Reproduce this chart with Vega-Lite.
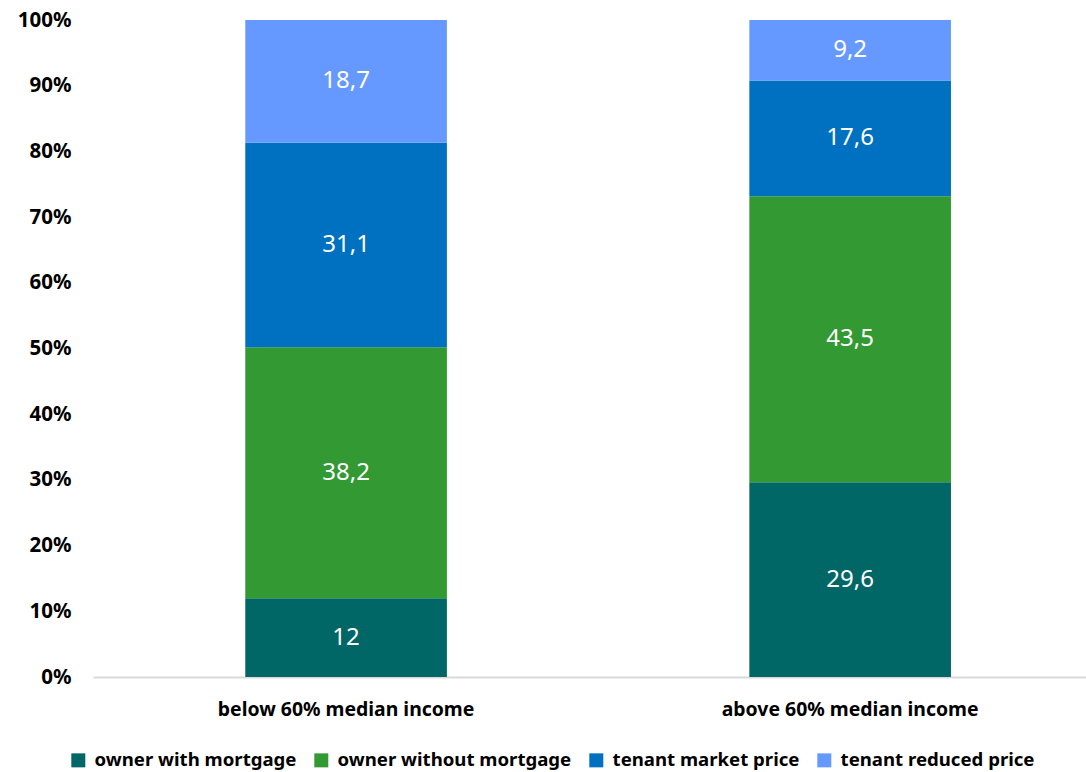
{
  "$schema": "https://vega.github.io/schema/vega-lite/v6.json",
  "width": 993,
  "height": 657,
  "autosize": {"type": "none"},
  "padding": {"left": 93, "top": 20, "right": 0, "bottom": 95},
  "background": "white",
  "config": {
    "view": {"stroke": null},
    "font": "Noto Sans",
    "locale": {"number": {"decimal": ",", "thousands": ".", "grouping": [3], "currency": ["", " €"]}}
  },
  "data": {
    "values": [
      {"group": "below 60% median income", "tenure": "owner with mortgage", "ord": 1, "value": 12},
      {"group": "below 60% median income", "tenure": "owner without mortgage", "ord": 2, "value": 38.2},
      {"group": "below 60% median income", "tenure": "tenant market price", "ord": 3, "value": 31.1},
      {"group": "below 60% median income", "tenure": "tenant reduced price", "ord": 4, "value": 18.7},
      {"group": "above 60% median income", "tenure": "owner with mortgage", "ord": 1, "value": 29.6},
      {"group": "above 60% median income", "tenure": "owner without mortgage", "ord": 2, "value": 43.5},
      {"group": "above 60% median income", "tenure": "tenant market price", "ord": 3, "value": 17.6},
      {"group": "above 60% median income", "tenure": "tenant reduced price", "ord": 4, "value": 9.2}
    ]
  },
  "transform": [
    {"stack": "value", "groupby": ["group"], "sort": [{"field": "ord", "order": "ascending"}], "offset": "normalize", "as": ["y0", "y1"]},
    {"calculate": "(datum.y0 + datum.y1) / 2", "as": "ymid"}
  ],
  "encoding": {
    "x": {
      "field": "group",
      "type": "nominal",
      "sort": ["below 60% median income", "above 60% median income"],
      "scale": {"paddingInner": 0.6, "paddingOuter": 0.285, "align": 0.53},
      "axis": {
        "title": null,
        "labelAngle": 0,
        "ticks": false,
        "domainColor": "#d9d9d9",
        "domainWidth": 2,
        "labelFont": "Noto Sans",
        "labelFontWeight": "bold",
        "labelFontSize": 19.4,
        "labelColor": "#000000",
        "labelPadding": 23,
        "labelLimit": 500
      }
    }
  },
  "layer": [
    {
      "mark": {"type": "bar"},
      "encoding": {
        "y": {
          "field": "y0",
          "type": "quantitative",
          "scale": {"domain": [0, 1]},
          "axis": {
            "title": null,
            "format": "%",
            "values": [0, 0.1, 0.2, 0.3, 0.4, 0.5, 0.6, 0.7, 0.8, 0.9, 1],
            "grid": false,
            "domain": false,
            "ticks": false,
            "labelFont": "Noto Sans",
            "labelFontWeight": "bold",
            "labelFontSize": 20.5,
            "labelColor": "#000000",
            "labelPadding": 22
          }
        },
        "y2": {"field": "y1"},
        "color": {
          "field": "tenure",
          "type": "nominal",
          "scale": {
            "domain": ["owner with mortgage", "owner without mortgage", "tenant market price", "tenant reduced price"],
            "range": ["#006666", "#339933", "#0070C0", "#6699FF"]
          },
          "legend": {
            "title": null,
            "orient": "none",
            "direction": "horizontal",
            "legendX": -24,
            "legendY": 731,
            "symbolType": "square",
            "symbolSize": 196,
            "symbolStrokeWidth": 0,
            "labelFont": "Noto Sans",
            "labelFontWeight": "bold",
            "labelFontSize": 18.6,
            "labelColor": "#000000",
            "labelOffset": 7,
            "columnPadding": 15,
            "labelLimit": 400
          }
        }
      }
    },
    {
      "mark": {"type": "text", "color": "white", "fontSize": 24, "font": "Noto Sans", "fontWeight": "normal"},
      "encoding": {
        "y": {"field": "ymid", "type": "quantitative"},
        "text": {"field": "value", "type": "quantitative", "format": ".1~f"}
      }
    }
  ]
}
